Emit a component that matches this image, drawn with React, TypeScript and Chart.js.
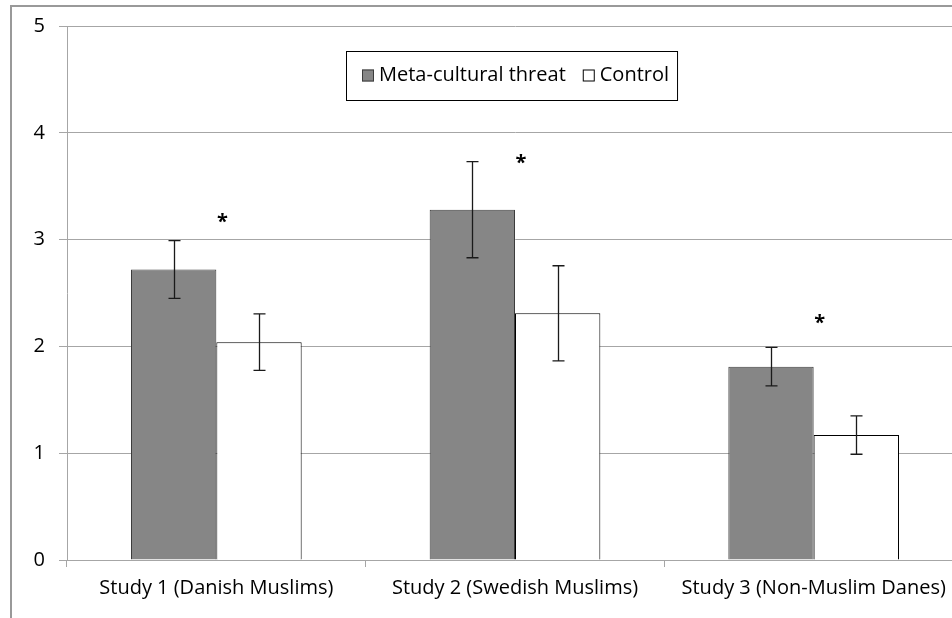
import { useEffect, useRef } from "react";
import { Chart, registerables } from "chart.js";

Chart.register(...registerables);

const categories = [
  "Study 1 (Danish Muslims)",
  "Study 2 (Swedish Muslims)",
  "Study 3 (Non-Muslim Danes)",
];
const seriesNames = ["Meta-cultural threat", "Control"];
const threatMeans = [2.72, 3.28, 1.81];
const threatErrors = [0.27, 0.45, 0.18];
const controlMeans = [2.04, 2.31, 1.17];
const controlErrors = [0.265, 0.445, 0.18];
const asteriskValues = [3.21, 3.76, 2.27];
const yTicks = [0, 1, 2, 3, 4, 5];

const FONT = "'Open Sans', sans-serif";
const FSIZE = 20;
const GRID = "#a6a6a6";
const THREAT_FILL = "#868686";
const THREAT_BORDER = "#3c3c3c";

export default function App() {
  const ref = useRef<HTMLCanvasElement | null>(null);

  useEffect(() => {
    document.body.style.margin = "0";
    const canvas = ref.current;
    if (!canvas) return;
    const errors = [threatErrors, controlErrors];

    const frame = {
      id: "frame",
      beforeDraw(chart: any) {
        const ctx = chart.ctx;
        ctx.save();
        ctx.fillStyle = "#fff";
        ctx.fillRect(0, 0, chart.width, chart.height);
        ctx.strokeStyle = "#999";
        ctx.lineWidth = 2;
        ctx.strokeRect(11, 6, 3000, 3000);
        ctx.restore();
      },
    };

    const errorBars = {
      id: "errorBars",
      afterDatasetsDraw(chart: any) {
        const ctx = chart.ctx;
        const y = chart.scales.y;
        ctx.save();
        ctx.strokeStyle = "#1a1a1a";
        ctx.lineWidth = 1.3;
        chart.data.datasets.forEach((ds: any, di: number) => {
          const meta = chart.getDatasetMeta(di);
          meta.data.forEach((bar: any, i: number) => {
            const v = ds.data[i];
            const e = errors[di][i];
            const x = Math.round(bar.x) + 0.5;
            const t = y.getPixelForValue(v + e);
            const b = y.getPixelForValue(v - e);
            ctx.beginPath();
            ctx.moveTo(x, t);
            ctx.lineTo(x, b);
            ctx.moveTo(x - 6, t);
            ctx.lineTo(x + 6, t);
            ctx.moveTo(x - 6, b);
            ctx.lineTo(x + 6, b);
            ctx.stroke();
          });
        });
        // significance asterisks
        const xs = chart.scales.x;
        ctx.fillStyle = "#000";
        ctx.font = `bold 20px ${FONT}`;
        ctx.textAlign = "center";
        ctx.textBaseline = "alphabetic";
        asteriskValues.forEach((v, i) => {
          const px = xs.getPixelForValue(i) + 6;
          const py = y.getPixelForValue(v);
          ctx.fillText("*", px, py + 11);
        });
        ctx.restore();
      },
    };

    const boxLegend = {
      id: "boxLegend",
      afterDraw(chart: any) {
        const ctx = chart.ctx;
        ctx.save();
        ctx.font = `${FSIZE}px ${FONT}`;
        ctx.textBaseline = "middle";
        ctx.textAlign = "left";
        const left = 346;
        const top = 51;
        const h = 49;
        const midY = top + h / 2;
        const fills = [THREAT_FILL, "#fff"];
        const borders = [THREAT_BORDER, "#000"];
        let x = left + 16;
        seriesNames.forEach((name, i) => {
          ctx.fillStyle = fills[i];
          ctx.fillRect(x, midY - 6, 12, 12);
          ctx.strokeStyle = borders[i];
          ctx.lineWidth = 1;
          ctx.strokeRect(x + 0.5, midY - 5.5, 11, 11);
          x += 17;
          ctx.fillStyle = "#000";
          ctx.fillText(name, x, midY);
          x += ctx.measureText(name).width;
          if (i < seriesNames.length - 1) x += 17;
        });
        const right = x + 8;
        ctx.strokeStyle = "#000";
        ctx.lineWidth = 1;
        ctx.strokeRect(left + 0.5, top + 0.5, right - left, h);
        ctx.restore();
      },
    };

    const chart = new Chart(canvas, {
      type: "bar",
      data: {
        labels: categories,
        datasets: [
          {
            label: seriesNames[0],
            data: threatMeans,
            backgroundColor: THREAT_FILL,
            borderColor: THREAT_BORDER,
            borderWidth: 1,
            categoryPercentage: 2 / 3.5,
            barPercentage: 1,
          },
          {
            label: seriesNames[1],
            data: controlMeans,
            backgroundColor: "#fff",
            borderColor: "#000",
            borderWidth: 1,
            categoryPercentage: 2 / 3.5,
            barPercentage: 1,
          },
        ],
      },
      options: {
        responsive: false,
        animation: false,
        devicePixelRatio: 1,
        layout: { padding: { top: 25, left: 0, right: 17, bottom: 0 } },
        plugins: {
          legend: { display: false },
          tooltip: { enabled: false },
        },
        scales: {
          x: {
            grid: {
              display: true,
              drawOnChartArea: false,
              drawTicks: true,
              tickLength: 7,
              color: GRID,
              offset: true,
            },
            border: { color: GRID },
            ticks: {
              color: "#000",
              font: { family: FONT, size: FSIZE },
              padding: 9,
              maxRotation: 0,
            },
            afterFit: (s: any) => {
              s.height = 58;
            },
          },
          y: {
            min: 0,
            max: 5,
            afterBuildTicks: (s: any) => {
              s.ticks = yTicks.map((v) => ({ value: v }));
            },
            grid: { color: GRID, tickLength: 8 },
            border: { color: GRID },
            ticks: {
              color: "#000",
              font: { family: FONT, size: FSIZE },
              padding: 14,
            },
            afterFit: (s: any) => {
              s.width = 67;
            },
          },
        },
      },
      plugins: [frame, errorBars, boxLegend],
    });
    return () => chart.destroy();
  }, []);

  return (
    <div style={{ position: "relative", width: 952, height: 618, overflow: "hidden" }}>
      <canvas ref={ref} width={980} height={618} style={{ display: "block" }} />
    </div>
  );
}
